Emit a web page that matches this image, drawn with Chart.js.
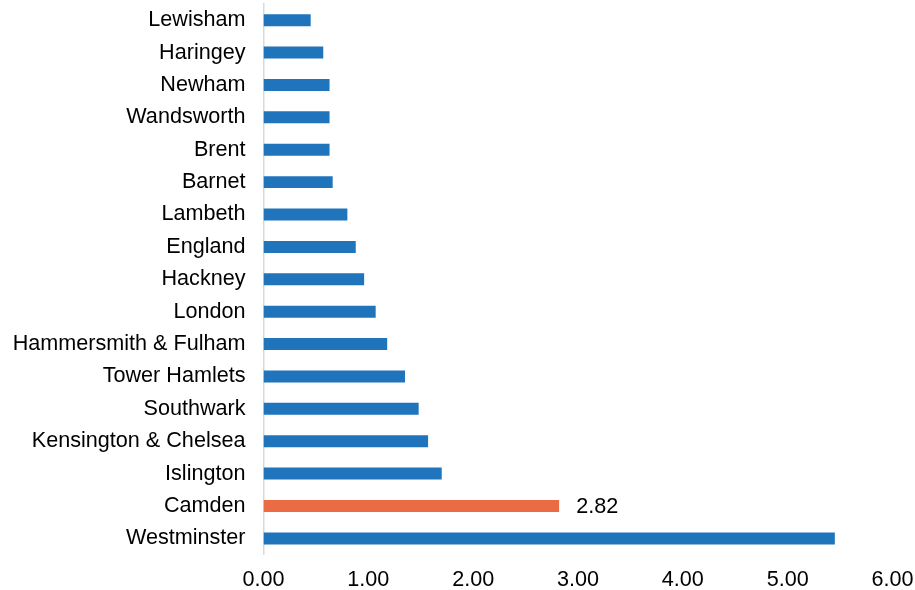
<!DOCTYPE html>
<html>
<head>
<meta charset="utf-8">
<script src="https://cdn.jsdelivr.net/npm/chart.js@4/dist/chart.umd.min.js"></script>
<style>
html,body{margin:0;padding:0;background:#fff;}
#wrap{width:915px;height:590px;position:relative;}
</style>
</head>
<body>
<div id="wrap"><canvas id="c" width="915" height="590"></canvas></div>
<script>
const categories = ["Lewisham","Haringey","Newham","Wandsworth","Brent","Barnet","Lambeth","England","Hackney","London","Hammersmith & Fulham","Tower Hamlets","Southwark","Kensington & Chelsea","Islington","Camden","Westminster"];
const values = [0.45,0.57,0.63,0.63,0.63,0.66,0.80,0.88,0.96,1.07,1.18,1.35,1.48,1.57,1.70,2.82,5.45];
const highlight = "Camden";
const xTicks = [0,1,2,3,4,5,6];

const BLUE = "#1F74BC";
const ORANGE = "#EB6B44";
const FONT = "'Liberation Sans', Arial, sans-serif";
const FSIZE = 21.6;

const labelPlugin = {
  id: 'hlLabel',
  afterDatasetsDraw(chart) {
    const ctx = chart.ctx;
    const meta = chart.getDatasetMeta(0);
    const i = categories.indexOf(highlight);
    const el = meta.data[i];
    ctx.save();
    ctx.font = FSIZE + "px " + FONT;
    ctx.fillStyle = "#000";
    ctx.textAlign = "left";
    ctx.textBaseline = "middle";
    ctx.fillText(values[i].toFixed(2), el.x + 17, el.y + 1);
    ctx.restore();
  }
};

new Chart(document.getElementById('c'), {
  type: 'bar',
  data: {
    labels: categories,
    datasets: [{
      data: values,
      backgroundColor: categories.map(c => c === highlight ? ORANGE : BLUE),
      borderWidth: 0,
      barPercentage: 0.37,
      categoryPercentage: 1.0
    }]
  },
  options: {
    indexAxis: 'y',
    responsive: false,
    animation: false,
    devicePixelRatio: 1,
    layout: { padding: { top: 4, bottom: -16.5, left: 0, right: 0 } },
    plugins: { legend: { display: false }, tooltip: { enabled: false } },
    scales: {
      x: {
        min: 0, max: 6,
        afterBuildTicks(scale) { scale.ticks = xTicks.map(v => ({ value: v })); },
        afterFit(scale) { scale.paddingLeft = 0; scale.paddingRight = 22.5; },
        grid: { display: false, drawTicks: false },
        border: { display: false },
        ticks: {
          padding: 13,
          maxRotation: 0,
          color: "#000",
          font: { family: FONT, size: FSIZE },
          callback: v => Number(v).toFixed(2)
        }
      },
      y: {
        afterFit(scale) { scale.width = 263.5; scale.paddingTop = 0; scale.paddingBottom = 0; },
        grid: { display: false, drawTicks: false },
        border: { display: true, color: "#D9D9D9", width: 1.5 },
        ticks: {
          padding: 18,
          color: "#000",
          font: { family: FONT, size: FSIZE }
        }
      }
    }
  },
  plugins: [labelPlugin]
});
</script>
</body>
</html>
